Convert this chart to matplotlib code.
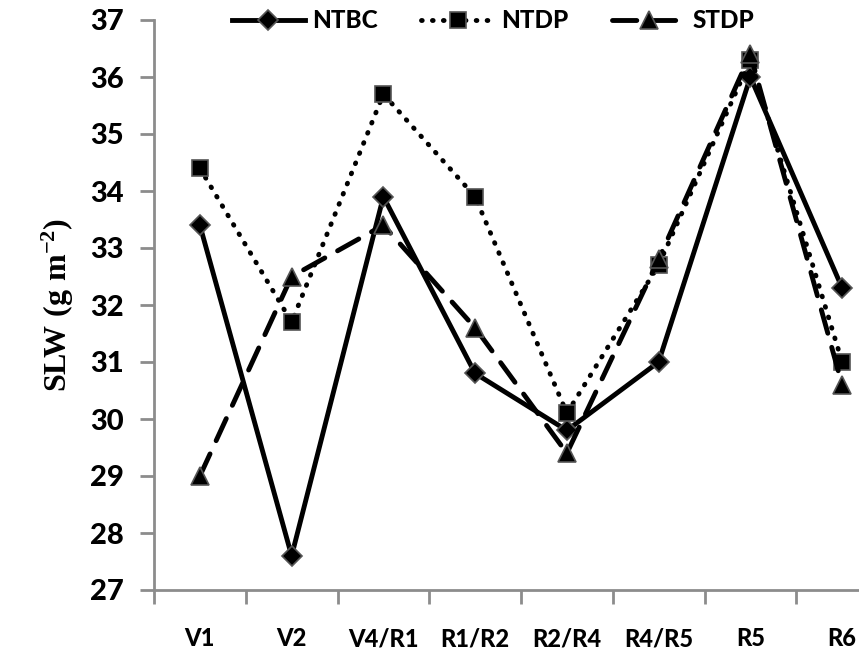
import matplotlib
matplotlib.use("Agg")
import matplotlib.pyplot as plt

categories = ["V1", "V2", "V4/R1", "R1/R2", "R2/R4", "R4/R5", "R5", "R6"]
ntbc = [33.4, 27.6, 33.9, 30.8, 29.8, 31.0, 36.0, 32.3]
ntdp = [34.4, 31.7, 35.7, 33.9, 30.1, 32.7, 36.3, 31.0]
stdp = [29.0, 32.5, 33.4, 31.6, 29.4, 32.8, 36.4, 30.6]
series_names = ["NTBC", "NTDP", "STDP"]
yticks = [27, 28, 29, 30, 31, 32, 33, 34, 35, 36, 37]

plt.rcParams["mathtext.fontset"] = "custom"
plt.rcParams["mathtext.rm"] = "Liberation Serif:bold"
plt.rcParams["mathtext.it"] = "Liberation Serif:bold"
plt.rcParams["mathtext.bf"] = "Liberation Serif:bold"
plt.rcParams["mathtext.default"] = "rm"

fig = plt.figure(figsize=(8.59, 6.53), dpi=100)
ax = fig.add_axes([154/859, 1-590/653, 734/859, 570/653])

x = list(range(len(categories)))
edge = "#555555"
l1, = ax.plot(x, ntbc, color="black", lw=3.5, ls="-", marker="D", ms=10,
              mfc="black", mec=edge, mew=1.2, clip_on=False, zorder=3)
l2, = ax.plot(x, ntdp, color="black", lw=3.5, ls=(0, (0.15, 2.1)),
              marker="s", ms=12, mfc="black", mec=edge, mew=1.2, clip_on=False, zorder=3)
l2.set_dash_capstyle("round")
l3, = ax.plot(x, stdp, color="black", lw=3.5, ls=(0, (5, 3)), marker="^", ms=13,
              mfc="black", mec=edge, mew=1.2, clip_on=False, zorder=3)
l3.set_dash_capstyle("round")

ax.set_xlim(-0.5, len(categories) - 0.5)
ax.set_ylim(27, 37)
ax.set_yticks(yticks)
ax.set_xticks([i - 0.5 for i in range(len(categories) + 1)], minor=False)
ax.set_xticklabels([])
ax.set_xticks(x, minor=True)
ax.set_xticklabels(categories, minor=True)

for s in ["top", "right"]:
    ax.spines[s].set_visible(False)
for s in ["left", "bottom"]:
    ax.spines[s].set_color("#8c8c8c")
    ax.spines[s].set_linewidth(2)

ax.tick_params(axis="y", which="major", direction="out", length=10, width=2,
               color="#8c8c8c", pad=12, labelsize=21)
ax.tick_params(axis="x", which="major", direction="out", length=10, width=2,
               color="#8c8c8c")
ax.tick_params(axis="x", which="minor", length=0, pad=27, labelsize=17)

for lab in ax.get_yticklabels() + ax.get_xticklabels(minor=True):
    lab.set_fontfamily("Lato")
    lab.set_fontweight("black")

ax.set_ylabel(r"$\mathrm{SL\!W\ (g\ m^{-2})}$", fontsize=23, labelpad=10)

leg = fig.legend([l1, l2, l3], series_names, loc="center",
                 bbox_to_anchor=(493/859, 1-21/653), ncol=3, frameon=False,
                 handlelength=3.0, columnspacing=1.8, handletextpad=0.3,
                 prop={"family": "Lato", "weight": "black", "size": 17.5})

fig.savefig("out.png", dpi=100)
